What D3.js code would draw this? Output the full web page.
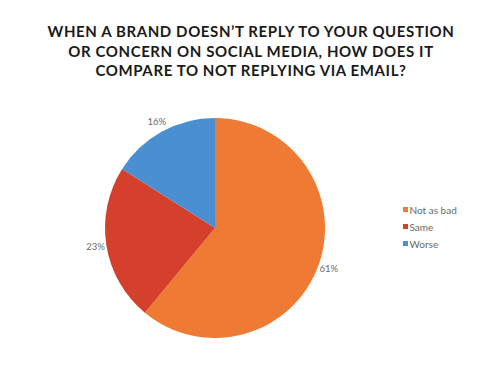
<!DOCTYPE html>
<html>
<head>
<meta charset="utf-8">
<script src="https://cdn.jsdelivr.net/npm/d3@7"></script>
<style>
  body { margin: 0; background: #fff; }
  svg { display: block; }
</style>
</head>
<body>
<svg id="chart" width="500" height="375"></svg>
<script>
const categories = ["Not as bad", "Same", "Worse"];
const values = [61, 23, 16];
const colours = ["#ee7a33", "#d5402c", "#4a8fd1"];
const titleLines = [
  "WHEN A BRAND DOESN\u2019T REPLY TO YOUR QUESTION",
  "OR CONCERN ON SOCIAL MEDIA, HOW DOES IT",
  "COMPARE TO NOT REPLYING VIA EMAIL?"
];

const svg = d3.select("#chart");
const cx = 215, cy = 228, R = 110;

// Title
svg.append("g")
  .selectAll("text")
  .data(titleLines)
  .join("text")
  .attr("x", 251)
  .attr("y", (d, i) => 37 + i * 19.5)
  .attr("text-anchor", "middle")
  .style("font-family", "Lato, 'Open Sans', sans-serif")
  .style("font-size", "15px")
  .style("font-weight", 700)
  .style("letter-spacing", "0.6px")
  .style("fill", "#1a1a1a")
  .text(d => d);

const data = categories.map((c, i) => ({ name: c, value: values[i] }));
const colour = d3.scaleOrdinal().domain(categories).range(colours);
const pie = d3.pie().value(d => d.value).sort(null);
const arc = d3.arc().innerRadius(0).outerRadius(R);
const labelArc = d3.arc().innerRadius(121).outerRadius(121);

const g = svg.append("g").attr("transform", `translate(${cx},${cy})`);
const arcs = pie(data);

g.selectAll("path")
  .data(arcs)
  .join("path")
  .attr("d", arc)
  .attr("fill", d => colour(d.data.name));

g.selectAll("text.lbl")
  .data(arcs)
  .join("text")
  .attr("class", "lbl")
  .attr("transform", d => `translate(${labelArc.centroid(d)})`)
  .attr("text-anchor", "middle")
  .attr("dy", "0.35em")
  .style("font-family", "Lato, sans-serif")
  .style("font-size", "9.5px")
  .style("fill", "#6a6a6a")
  .text(d => d.data.value + "%");

// Legend
const legend = svg.append("g").attr("transform", "translate(403,210)");
const rows = legend.selectAll("g")
  .data(categories)
  .join("g")
  .attr("transform", (d, i) => `translate(0,${i * 17})`);
rows.append("rect")
  .attr("x", 0).attr("y", -3)
  .attr("width", 5).attr("height", 5)
  .attr("fill", d => colour(d));
rows.append("text")
  .attr("x", 6.5).attr("y", 0)
  .attr("dy", "0.35em")
  .style("font-family", "Lato, sans-serif")
  .style("font-size", "10px")
  .style("fill", "#6a6a6a")
  .text(d => d);
</script>
</body>
</html>
